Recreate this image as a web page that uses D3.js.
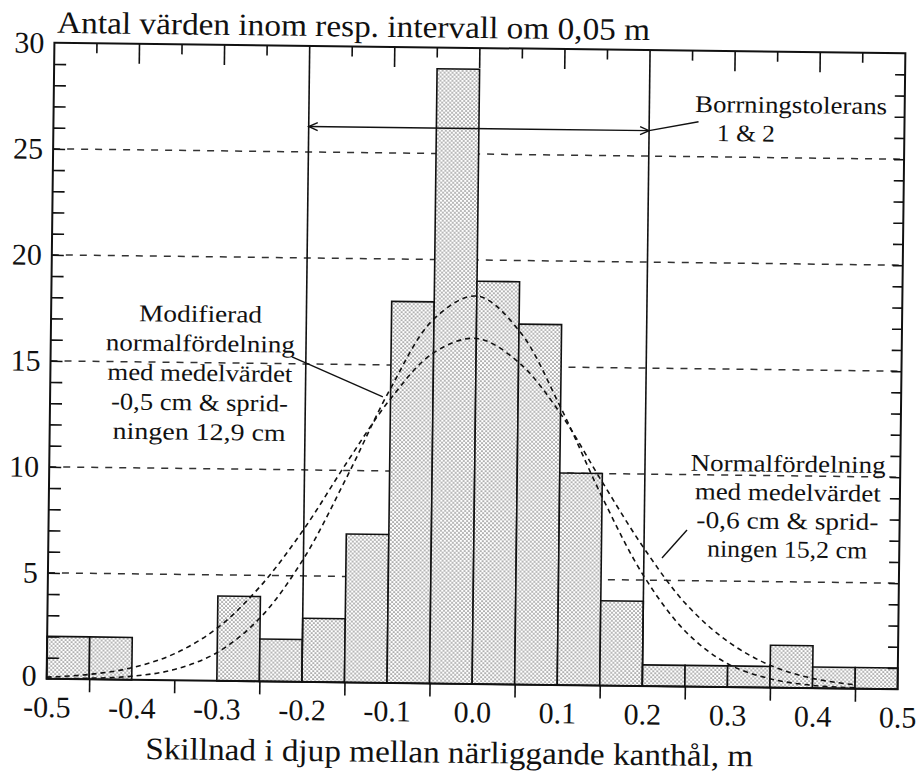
<!DOCTYPE html>
<html>
<head>
<meta charset="utf-8">
<script src="https://cdn.jsdelivr.net/npm/d3@7"></script>
<style>
  html, body { margin: 0; padding: 0; background: #fff; }
  svg { display: block; }
  text { font-family: "Liberation Serif", "Times New Roman", serif; fill: #111; }
</style>
</head>
<body>
<svg id="chart" width="921" height="777"></svg>
<script>
// Histogram bins (left edge, m) and number of values in each 0,05 m interval
const binStart = [-0.5, -0.45, -0.4, -0.35, -0.3, -0.25, -0.2, -0.15, -0.1, -0.05,
                  0.0, 0.05, 0.1, 0.15, 0.2, 0.25, 0.3, 0.35, 0.4, 0.45];
const counts   = [2, 2, 0, 0, 4, 2, 3, 7, 18, 29, 19, 17, 10, 4, 1, 1, 1, 2, 1, 1];
const binWidth = 0.05;

// Fitted distribution curves (read at every 0,05 m)
const curveX        = [-0.5, -0.45, -0.4, -0.35, -0.3, -0.25, -0.2, -0.15, -0.1, -0.05,
                       0.0, 0.05, 0.1, 0.15, 0.2, 0.25, 0.3, 0.35, 0.4, 0.45];
const normalCurve   = [0.08, 0.23, 0.57, 1.26, 2.5, 4.5, 7.2, 10.4, 13.4, 15.6,
                       16.3, 15.2, 12.8, 9.6, 6.5, 3.9, 2.15, 1.05, 0.46, 0.18];
const modifiedCurve = [0.01, 0.05, 0.17, 0.51, 1.34, 3.0, 5.8, 9.7, 13.9, 17.2,
                       18.3, 16.7, 13.1, 8.9, 5.2, 2.6, 1.1, 0.42, 0.13, 0.04];

// Drilling tolerance limits (m)
const tolerance = [-0.2, 0.2];

// Axis ticks and labels
const xLabelValues = [-0.5, -0.4, -0.3, -0.2, -0.1, 0.0, 0.1, 0.2, 0.3, 0.4, 0.5];
const xLabels      = ["-0.5", "-0.4", "-0.3", "-0.2", "-0.1", "0.0", "0.1", "0.2", "0.3", "0.4", "0.5"];
const xOddTicks    = [-0.45, -0.35, -0.25, -0.15, -0.05, 0.05, 0.15, 0.25, 0.35, 0.45];
const yLabelValues = [0, 5, 10, 15, 20, 25, 30];
const gridValues   = [5, 10, 15, 20, 25];

const yTitle = "Antal värden inom resp. intervall om 0,05 m";
const xTitle = "Skillnad i djup mellan närliggande kanthål, m";
const noteTol  = ["Borrningstolerans", "1 & 2"];
const noteMod  = ["Modifierad", "normalfördelning", "med medelvärdet", "-0,5 cm & sprid-", "ningen 12,9 cm"];
const noteNorm = ["Normalfördelning", "med medelvärdet", "-0,6 cm & sprid-", "ningen 15,2 cm"];

const svg = d3.select("#chart");
svg.append("rect").attr("width", 921).attr("height", 777).attr("fill", "#fff");

// Stippled fill for the bars
const defs = svg.append("defs");
const pat = defs.append("pattern").attr("id", "stipple")
  .attr("patternUnits", "userSpaceOnUse").attr("width", 4).attr("height", 4);
pat.append("rect").attr("width", 4).attr("height", 4).attr("fill", "#fff");
pat.append("circle").attr("cx", 1).attr("cy", 1).attr("r", 0.85).attr("fill", "#6e6e6e");
pat.append("circle").attr("cx", 3).attr("cy", 3).attr("r", 0.85).attr("fill", "#6e6e6e");

const plotL = 50.5, plotR = 901.5, plotT = 48, plotB = 684;
const x = d3.scaleLinear().domain([-0.5, 0.5]).range([plotL, plotR]);
const y = d3.scaleLinear().domain([0, 30]).range([plotB, plotT]);

// the printed figure sits slightly skewed on the page
const g = svg.append("g").attr("transform", "rotate(0.7,476,366)");

// dashed horizontal grid
g.append("g").selectAll("line").data(gridValues).join("line")
  .attr("x1", plotL).attr("x2", plotR)
  .attr("y1", d => y(d)).attr("y2", d => y(d))
  .attr("stroke", "#333").attr("stroke-width", 1.5).attr("stroke-dasharray", "7,7");

// histogram bars
const bars = binStart.map((b, i) => ({ x0: b, x1: b + binWidth, n: counts[i] })).filter(d => d.n > 0);
g.append("g").selectAll("rect").data(bars).join("rect")
  .attr("x", d => x(d.x0)).attr("width", d => x(d.x1) - x(d.x0))
  .attr("y", d => y(d.n)).attr("height", d => y(0) - y(d.n))
  .attr("fill", "url(#stipple)").attr("stroke", "#111").attr("stroke-width", 1.6);

// tolerance limits
g.append("g").selectAll("line").data(tolerance).join("line")
  .attr("x1", d => x(d)).attr("x2", d => x(d))
  .attr("y1", y(30)).attr("y2", y(0))
  .attr("stroke", "#111").attr("stroke-width", 1.6);

// double arrow between the limits
const arrowY = y(26.2);
const ar = g.append("g").attr("stroke", "#111").attr("stroke-width", 1.4).attr("fill", "none");
ar.append("line").attr("x1", x(tolerance[0])).attr("x2", x(tolerance[1])).attr("y1", arrowY).attr("y2", arrowY);
ar.append("path").attr("d", `M${x(tolerance[0]) + 9},${arrowY - 4}L${x(tolerance[0])},${arrowY}L${x(tolerance[0]) + 9},${arrowY + 4}`);
ar.append("path").attr("d", `M${x(tolerance[1]) - 9},${arrowY - 4}L${x(tolerance[1])},${arrowY}L${x(tolerance[1]) - 9},${arrowY + 4}`);
ar.append("line").attr("x1", x(0.2)).attr("y1", arrowY).attr("x2", x(0.258)).attr("y2", y(26.65));

// distribution curves
const line = d3.line().x(d => x(d[0])).y(d => y(d[1])).curve(d3.curveCatmullRom.alpha(0.5));
[normalCurve, modifiedCurve].forEach(vals => {
  g.append("path").datum(curveX.map((v, i) => [v, vals[i]]))
    .attr("d", line).attr("fill", "none")
    .attr("stroke", "#111").attr("stroke-width", 1.6).attr("stroke-dasharray", "5,4");
});

// frame
g.append("rect").attr("x", plotL).attr("y", plotT).attr("width", plotR - plotL).attr("height", plotB - plotT)
  .attr("fill", "none").attr("stroke", "#111").attr("stroke-width", 2);

// bottom axis: outward ticks at the half intervals
const xAxisTicks = g.append("g").attr("transform", `translate(0,${plotB})`)
  .call(d3.axisBottom(x).tickValues(xOddTicks).tickSize(13).tickFormat(""));
xAxisTicks.select(".domain").remove();
xAxisTicks.selectAll(".tick line").attr("stroke", "#111").attr("stroke-width", 1.6);

// bottom axis labels
const xAxisLabels = g.append("g").attr("transform", `translate(0,${plotB})`)
  .call(d3.axisBottom(x).tickValues(xLabelValues).tickSize(0).tickPadding(17)
    .tickFormat((d, i) => xLabels[i]));
xAxisLabels.select(".domain").remove();
xAxisLabels.selectAll("text").attr("font-size", 30).attr("fill", "#111");

// top axis: inward ticks, long at tenths, short at half intervals
const topTicks = d3.range(-9, 10).map(k => k * 0.05).filter(v => Math.abs(Math.abs(v) - 0.2) > 1e-6);
g.append("g").selectAll("line").data(topTicks).join("line")
  .attr("x1", d => x(d)).attr("x2", d => x(d))
  .attr("y1", plotT).attr("y2", d => plotT + (Math.abs(Math.round(d * 20)) % 2 === 0 ? 20 : 10))
  .attr("stroke", "#111").attr("stroke-width", 1.6);

// left axis: inward minor ticks every unit
const yAxisL = g.append("g").attr("transform", `translate(${plotL},0)`)
  .call(d3.axisRight(y).tickValues(d3.range(1, 30)).tickSize(12).tickFormat(""));
yAxisL.select(".domain").remove();
yAxisL.selectAll(".tick line").attr("stroke", "#111").attr("stroke-width", 1.6);

// right axis: inward minor ticks every unit
const yAxisR = g.append("g").attr("transform", `translate(${plotR},0)`)
  .call(d3.axisLeft(y).tickValues(d3.range(1, 30)).tickSize(10).tickFormat(""));
yAxisR.select(".domain").remove();
yAxisR.selectAll(".tick line").attr("stroke", "#111").attr("stroke-width", 1.6);

// left axis labels
const yLab = g.append("g").attr("transform", `translate(${plotL},0)`)
  .call(d3.axisLeft(y).tickValues(yLabelValues).tickSize(0).tickPadding(10).tickFormat(d3.format("d")));
yLab.select(".domain").remove();
yLab.selectAll("text").attr("font-size", 30).attr("fill", "#111");
yLab.selectAll("text").filter(d => d === 0).attr("dy", "0.22em");

// helper for a line of text stretched to its printed width
function label(px, py, str, size, width, anchor) {
  return g.append("text").attr("x", px).attr("y", py)
    .attr("font-size", size).attr("text-anchor", anchor || "start")
    .attr("textLength", width).attr("lengthAdjust", "spacingAndGlyphs")
    .text(str);
}

// titles
label(53, 38, yTitle, 31, 593);
label(454, 763, xTitle, 31, 608, "middle");

// annotations
label(x(0.2537), y(27.11), noteTol[0], 24, 192);
label(x(0.2797), y(25.75), noteTol[1], 24, 58);

const modWidths = [123, 189, 185, 177, 173];
noteMod.forEach((t, i) => label(x(-0.3243), y(16.92) + i * 29.5, t, 24, modWidths[i], "middle"));
g.append("line").attr("x1", x(-0.2163)).attr("y1", y(15.32)).attr("x2", x(-0.109)).attr("y2", y(13.49))
  .attr("stroke", "#111").attr("stroke-width", 1.4);

const normWidths = [195, 186, 182, 160];
noteNorm.forEach((t, i) => label(x(0.3682), y(10.18) + i * 28.5, t, 24, normWidths[i], "middle"));
g.append("line").attr("x1", x(0.2503)).attr("y1", y(7.39)).attr("x2", x(0.2213)).attr("y2", y(6.05))
  .attr("stroke", "#111").attr("stroke-width", 1.4);
</script>
</body>
</html>
